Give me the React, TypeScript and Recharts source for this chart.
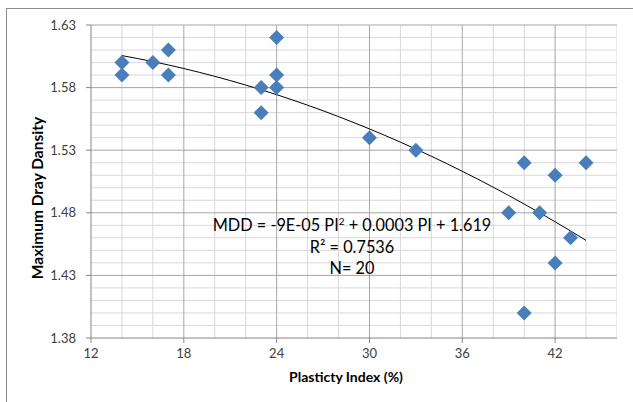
import React from "react";
import { ComposedChart, Scatter, Line, XAxis, YAxis, ReferenceLine } from "recharts";

const plasticityIndex = [14, 14, 16, 17, 17, 23, 23, 24, 24, 24, 30, 33, 39, 40, 40, 41, 42, 42, 43, 44];
const maxDryDensity = [1.60, 1.59, 1.60, 1.61, 1.59, 1.58, 1.56, 1.62, 1.59, 1.58, 1.54, 1.53, 1.48, 1.52, 1.40, 1.48, 1.51, 1.44, 1.46, 1.52];

const xTicks = [12, 18, 24, 30, 36, 42];
const yTicks = [1.38, 1.43, 1.48, 1.53, 1.58, 1.63];
const xMinorGrid = [14, 16, 20, 22, 26, 28, 32, 34, 38, 40, 44, 46];
const yMinorGrid = [1.39, 1.40, 1.41, 1.42, 1.44, 1.45, 1.46, 1.47, 1.49, 1.50, 1.51, 1.52, 1.54, 1.55, 1.56, 1.57, 1.59, 1.60, 1.61, 1.62];

// Trendline coefficients as displayed on the chart
const trendA = -9e-5;
const trendB = 0.0003;
const trendC = 1.619;
const trendX = [14, 16, 18, 20, 22, 24, 26, 28, 30, 32, 34, 36, 38, 40, 42, 44];

const points = plasticityIndex.map((x, i) => ({ x, y: maxDryDensity[i] }));
const trend = trendX.map((x) => ({ x, t: trendA * x * x + trendB * x + trendC }));

const FONT = "Lato, 'Open Sans', sans-serif";

const Diamond = (props: any) => {
  const { cx, cy } = props;
  if (cx == null || cy == null) return null;
  const r = 7.5;
  return (
    <path
      d={`M${cx},${cy - r}L${cx + r},${cy}L${cx},${cy + r}L${cx - r},${cy}Z`}
      fill="#4a7ebb"
    />
  );
};

export default function App() {
  return (
    <div style={{ position: "absolute", left: 0, top: 0, width: 633, height: 402, background: "#fff", fontFamily: FONT }}>
      <div
        style={{
          position: "absolute",
          left: 6,
          top: 8,
          width: 640,
          height: 410,
          borderTop: "1.5px solid #8c8c8c",
          borderLeft: "1.5px solid #8c8c8c",
          boxSizing: "border-box",
        }}
      />
      <ComposedChart
        width={633}
        height={402}
        margin={{ top: 25, right: 16, bottom: 34, left: 0 }}
        style={{ position: "absolute", left: 0, top: 0 }}
      >
        <XAxis
          type="number"
          dataKey="x"
          domain={[12, 46]}
          ticks={xTicks}
          allowDataOverflow
          height={30}
          stroke="#868686"
          tickSize={5}
          tickMargin={6}
          tick={{ fill: "#404040", fontSize: 13, fontFamily: FONT }}
        />
        <YAxis
          type="number"
          domain={[1.38, 1.63]}
          ticks={yTicks}
          allowDataOverflow
          width={91}
          stroke="#868686"
          tickSize={5}
          tickMargin={10}
          tickFormatter={(v: number) => v.toFixed(2)}
          tick={{ fill: "#404040", fontSize: 13, fontFamily: FONT }}
        />
        {xMinorGrid.map((v) => (
          <ReferenceLine key={"xm" + v} x={v} stroke="#d9d9d9" strokeWidth={1} ifOverflow="hidden" />
        ))}
        {yMinorGrid.map((v) => (
          <ReferenceLine key={"ym" + v} y={v} stroke="#d9d9d9" strokeWidth={1} ifOverflow="hidden" />
        ))}
        {xTicks.slice(1).map((v) => (
          <ReferenceLine key={"xM" + v} x={v} stroke="#a6a6a6" strokeWidth={1} />
        ))}
        {yTicks.slice(1).map((v) => (
          <ReferenceLine key={"yM" + v} y={v} stroke="#a6a6a6" strokeWidth={1} />
        ))}
        <Scatter data={points} dataKey="y" shape={<Diamond />} isAnimationActive={false} />
        <Line
          data={trend}
          dataKey="t"
          type="monotone"
          stroke="#000"
          strokeWidth={1}
          dot={false}
          activeDot={false}
          isAnimationActive={false}
        />
      </ComposedChart>
      <div
        style={{
          position: "absolute",
          left: 200,
          width: 304,
          top: 214,
          textAlign: "center",
          fontSize: 16.3,
          lineHeight: "21.5px",
          color: "#000",
          fontFamily: FONT,
        }}
      >
        <div>
          MDD = -9E-05 PI<sup style={{ fontSize: 10, lineHeight: 0 }}>2</sup> + 0.0003 PI + 1.619
        </div>
        <div>R² = 0.7536</div>
        <div>N= 20</div>
      </div>
      <div
        style={{
          position: "absolute",
          left: 246,
          width: 200,
          top: 368,
          textAlign: "center",
          fontSize: 14,
          fontWeight: 700,
          color: "#000",
          fontFamily: FONT,
        }}
      >
        Plasticty Index (%)
      </div>
      <div
        style={{
          position: "absolute",
          left: 37 - 100,
          top: 198 - 10,
          width: 200,
          height: 20,
          lineHeight: "20px",
          textAlign: "center",
          fontSize: 15.5,
          fontWeight: 700,
          color: "#000",
          transform: "rotate(-90deg)",
          fontFamily: FONT,
        }}
      >
        Maximum Dray Dansity
      </div>
    </div>
  );
}
